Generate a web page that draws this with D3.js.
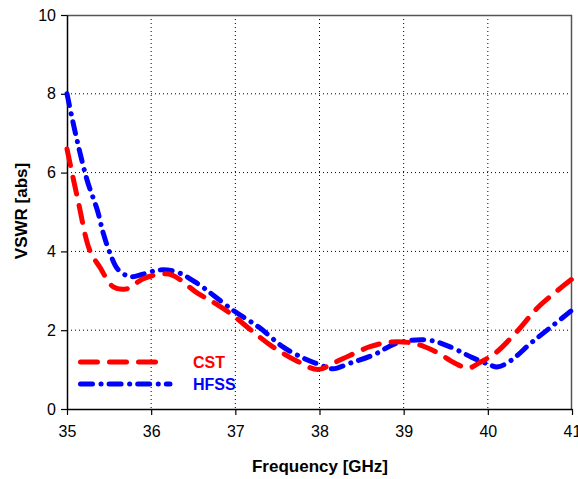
<!DOCTYPE html>
<html>
<head>
<meta charset="utf-8">
<script src="https://cdn.jsdelivr.net/npm/d3@7"></script>
<style>
  body { margin: 0; background: #fff; }
  text { font-family: Arial, "Liberation Sans", sans-serif; }
</style>
</head>
<body>
<svg id="chart"></svg>
<script>
var cstFreq = [35.0, 35.13, 35.27, 35.39, 35.55, 35.71, 35.9, 36.1, 36.25, 36.55, 36.73, 36.97, 37.21, 37.45, 37.73, 37.98, 38.16, 38.36, 38.6, 38.84, 39.09, 39.25, 39.41, 39.61, 39.77, 39.92, 40.09, 40.36, 40.6, 41.0];
var cstVswr = [6.6, 5.3, 4.03, 3.6, 3.1, 3.05, 3.3, 3.42, 3.4, 2.94, 2.72, 2.38, 1.96, 1.57, 1.22, 1.0, 1.16, 1.36, 1.58, 1.7, 1.68, 1.58, 1.42, 1.16, 1.04, 1.2, 1.42, 2.0, 2.59, 3.3];
var hfssFreq = [35.0, 35.1, 35.24, 35.36, 35.43, 35.51, 35.61, 35.75, 35.9, 36.1, 36.3, 36.54, 36.97, 37.29, 37.57, 37.81, 38.01, 38.16, 38.36, 38.64, 38.92, 39.29, 39.56, 39.8, 40.0, 40.12, 40.28, 40.51, 40.75, 41.0];
var hfssVswr = [8.0, 7.0, 5.8, 5.05, 4.47, 3.96, 3.53, 3.36, 3.42, 3.53, 3.48, 3.2, 2.51, 2.06, 1.57, 1.29, 1.12, 1.02, 1.16, 1.37, 1.67, 1.75, 1.57, 1.32, 1.14, 1.07, 1.24, 1.67, 2.08, 2.51];
var xTicks = [35, 36, 37, 38, 39, 40, 41];
var yTicks = [0, 2, 4, 6, 8, 10];
var seriesNames = ["CST", "HFSS"];
var seriesColors = ["#ff0000", "#0000ff"];

var totalW = 578, totalH = 479;
var margin = {top: 15, right: 6, bottom: 70, left: 67};
var width = totalW - margin.left - margin.right;
var height = totalH - margin.top - margin.bottom;

var svg = d3.select("#chart").attr("width", totalW).attr("height", totalH);
var g = svg.append("g").attr("transform", "translate(" + margin.left + "," + margin.top + ")");

var x = d3.scaleLinear().domain([35, 41]).range([0, width]);
var y = d3.scaleLinear().domain([0, 10]).range([height, 0]);

// grid
g.append("g").selectAll("line").data(xTicks.slice(1, -1)).enter().append("line")
  .attr("x1", function(d) { return x(d); }).attr("x2", function(d) { return x(d); })
  .attr("y1", 0).attr("y2", height)
  .style("stroke", "#000").style("stroke-width", 1).style("stroke-dasharray", "1,3");
g.append("g").selectAll("line").data(yTicks.slice(1, -1)).enter().append("line")
  .attr("y1", function(d) { return y(d); }).attr("y2", function(d) { return y(d); })
  .attr("x1", 0).attr("x2", width)
  .style("stroke", "#000").style("stroke-width", 1).style("stroke-dasharray", "1,3");

// frame top / right
g.append("line").attr("x1", 0).attr("x2", width).attr("y1", 0.5).attr("y2", 0.5)
  .style("stroke", "#555").style("stroke-width", 1.5);
g.append("line").attr("x1", width - 0.5).attr("x2", width - 0.5).attr("y1", 0).attr("y2", height)
  .style("stroke", "#555").style("stroke-width", 1.5);

// axes
var xAxis = d3.axisBottom(x).tickValues(xTicks).tickFormat(d3.format("d")).tickSizeInner(6).tickSizeOuter(0).tickPadding(11);
var yAxis = d3.axisLeft(y).tickValues(yTicks).tickFormat(d3.format("d")).tickSizeInner(6).tickSizeOuter(0).tickPadding(5);
var gx = g.append("g").attr("transform", "translate(0," + height + ")").call(xAxis);
var gy = g.append("g").call(yAxis);
[gx, gy].forEach(function(a) {
  a.select(".domain").style("stroke", "#000").style("stroke-width", 1.5);
  a.selectAll(".tick line").style("stroke", "#000").style("stroke-width", 1.2);
  a.selectAll(".tick text").style("font-family", "Arial, 'Liberation Sans', sans-serif").style("font-size", "16px").style("fill", "#000");
});

// lines
var line = d3.line().x(function(d) { return x(d[0]); }).y(function(d) { return y(d[1]); }).curve(d3.curveCatmullRom.alpha(0.5));
var cstData = d3.zip(cstFreq, cstVswr);
var hfssData = d3.zip(hfssFreq, hfssVswr);
var dashes = ["17,12", "12,8.5,0.1,8"];

g.append("path").datum(hfssData).attr("d", line)
  .style("fill", "none").style("stroke", seriesColors[1]).style("stroke-width", 5)
  .style("stroke-linecap", "round").style("stroke-dasharray", dashes[1]);
g.append("path").datum(cstData).attr("d", line)
  .style("fill", "none").style("stroke", seriesColors[0]).style("stroke-width", 5)
  .style("stroke-linecap", "round").style("stroke-dasharray", dashes[0]);

// legend
var legend = g.append("g");
var legendRows = [
  {name: seriesNames[0], color: seriesColors[0], dash: dashes[0], y: 347, x2: 91},
  {name: seriesNames[1], color: seriesColors[1], dash: dashes[1], y: 369, x2: 103}
];
legendRows.forEach(function(r) {
  legend.append("line").attr("x1", 13.5).attr("x2", r.x2).attr("y1", r.y).attr("y2", r.y)
    .style("stroke", r.color).style("stroke-width", 5).style("stroke-linecap", "round").style("stroke-dasharray", r.dash);
  legend.append("text").attr("x", 126).attr("y", r.y + 6).text(r.name)
    .style("fill", r.color).style("font-weight", "bold").style("font-size", "16px");
});

// axis titles
svg.append("text").attr("x", 320).attr("y", 472).attr("text-anchor", "middle")
  .style("font-weight", "bold").style("font-size", "17px").text("Frequency [GHz]");
svg.append("text").attr("transform", "translate(27,211) rotate(-90)").attr("text-anchor", "middle")
  .style("font-weight", "bold").style("font-size", "17px").text("VSWR [abs]");
</script>
</body>
</html>
